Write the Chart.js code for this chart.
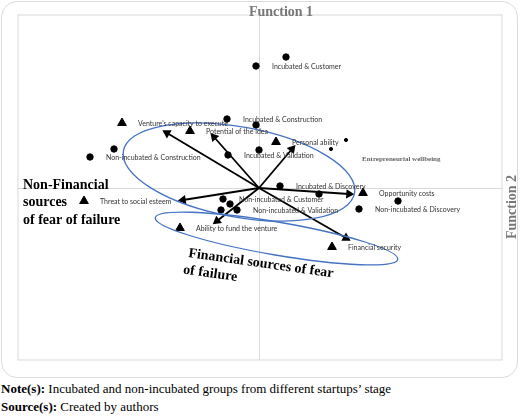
<!DOCTYPE html>
<html>
<head>
<meta charset="utf-8">
<script src="https://cdn.jsdelivr.net/npm/chart.js@4.4.0/dist/chart.umd.min.js"></script>
<style>
  body { margin: 0; background: #fff; width: 520px; height: 416px; position: relative; overflow: hidden; }
  #moldura { position: absolute; left: 1px; top: 1px; width: 517px; height: 377px; border: 1.5px solid #dcdcdc; border-radius: 16px; box-sizing: border-box; }
  #grafico { position: absolute; left: 0; top: 0; }
  .nota { position: absolute; left: 1px; font-family: "Liberation Serif", serif; font-size: 13px; color: #000; white-space: nowrap; }
</style>
</head>
<body>
<div id="moldura"></div>
<canvas id="grafico" width="520" height="380"></canvas>
<div class="nota" style="top:381px"><b>Note(s):</b> Incubated and non-incubated groups from different startups’ stage</div>
<div class="nota" style="top:399px"><b>Source(s):</b> Created by authors</div>
<script>
// group centroids (labelled)
const groupNames = ["Incubated & Customer", "Incubated & Construction", "Incubated & Validation", "Incubated & Discovery",
  "Non-incubated & Customer", "Non-incubated & Construction", "Non-incubated & Validation", "Non-incubated & Discovery"];
const groupX = [-0.06, -0.64, -0.62, 0.42, -0.72, -3.38, -0.44, 2.00];
const groupY = [2.44, 1.38, 0.66, 0.04, -0.22, 0.62, -0.44, -0.42];

// unlabelled centroids
const otherX = [0.54, -0.06, -2.90, 0.00, 1.20, 2.78, -0.58, -0.76];
const otherY = [2.62, 1.26, 0.78, 0.76, -0.12, -0.26, -0.32, -0.44];

// variables (triangles) and their vectors (arrows)
const varNames = ["Venture's capacity to execute", "Potential of the idea", "Personal ability", "Opportunity costs",
  "Threat to social esteem", "Ability to fund the venture", "Financial security"];
const varX = [-2.74, -1.38, 0.34, 2.08, -3.50, -1.58, 1.46];
const varY = [1.30, 1.14, 0.92, -0.10, -0.26, -0.80, -1.18];
const vecX = [-1.84, -0.90, 0.66, 1.80, -1.52, -0.84, 1.74];
const vecY = [1.10, 1.02, 0.78, -0.12, -0.24, -0.66, -1.00];

// entrepreneurial wellbeing
const wellX = [1.74, 1.44];
const wellY = [0.96, 0.78];

// ellipses: centre, semi axes, tilt (degrees, clockwise on screen)
const elipseCx = [-0.40, 0.35];
const elipseCy = [0.32, -1.01];
const elipseA = [2.35, 2.46];
const elipseB = [0.90, 0.33];
const elipseAng = [10.35, 9.76];

const pontos = (xs, ys) => xs.map((x, i) => ({ x, y: ys[i] }));

function rotacaoSeta(c) {
  const p = c.raw;
  if (!p || (p.x === 0 && p.y === 0)) return 0;
  const sx = c.chart.scales.x, sy = c.chart.scales.y;
  const dx = sx.getPixelForValue(p.x) - sx.getPixelForValue(0);
  const dy = sy.getPixelForValue(p.y) - sy.getPixelForValue(0);
  return Math.atan2(dx, -dy) * 180 / Math.PI;
}

const setas = vecX.map((x, i) => ({
  label: varNames[i],
  data: [{ x: 0, y: 0 }, { x, y: vecY[i] }],
  showLine: true,
  borderColor: "#000",
  backgroundColor: "#000",
  borderWidth: 1.8,
  pointStyle: "triangle",
  pointRadius: [0, 5.4],
  pointBorderWidth: 0,
  pointRotation: rotacaoSeta
}));

const desenho = {
  id: "desenho",
  beforeDatasetsDraw(chart) {
    const { ctx, chartArea: a, scales: { x, y } } = chart;
    ctx.save();
    ctx.strokeStyle = "#d9d9d9";
    ctx.lineWidth = 1;
    ctx.strokeRect(a.left, a.top, a.right - a.left, a.bottom - a.top);
    const x0 = Math.round(x.getPixelForValue(0)) + 0.5, y0 = Math.round(y.getPixelForValue(0)) + 0.5;
    ctx.beginPath();
    ctx.moveTo(x0, a.top); ctx.lineTo(x0, a.bottom);
    ctx.moveTo(a.left, y0); ctx.lineTo(a.right, y0);
    ctx.stroke();
    ctx.restore();
  },
  afterDatasetsDraw(chart) {
    const { ctx, scales: { x, y } } = chart;
    const unidade = x.getPixelForValue(1) - x.getPixelForValue(0);
    ctx.save();
    // ellipses
    ctx.strokeStyle = "#4472c4";
    ctx.lineWidth = 1.3;
    elipseCx.forEach((cx, i) => {
      ctx.beginPath();
      ctx.ellipse(x.getPixelForValue(cx), y.getPixelForValue(elipseCy[i]), elipseA[i] * unidade, elipseB[i] * unidade,
        elipseAng[i] * Math.PI / 180, 0, 2 * Math.PI);
      ctx.stroke();
    });
    // point labels
    ctx.fillStyle = "#333";
    ctx.font = "7px Lato";
    ctx.textBaseline = "middle";
    ctx.textAlign = "left";
    chart.data.datasets.forEach((ds, i) => {
      if (!ds.etiquetas) return;
      chart.getDatasetMeta(i).data.forEach((el, j) => ctx.fillText(ds.etiquetas[j], el.x + 16, el.y + 0.5));
    });
    // titles and group notes
    ctx.fillStyle = "#777";
    ctx.font = "bold 14px 'Liberation Serif'";
    ctx.textAlign = "center";
    ctx.fillText("Function 1", x.getPixelForValue(0.44), y.getPixelForValue(3.51));
    ctx.save();
    ctx.translate(x.getPixelForValue(5.06), y.getPixelForValue(-0.38));
    ctx.rotate(-Math.PI / 2);
    ctx.fillText("Function 2", 0, 0);
    ctx.restore();

    ctx.font = "bold 7px 'Liberation Serif'";
    ctx.textAlign = "left";
    ctx.fillStyle = "#666";
    ctx.fillText("Entrepreneurial wellbeing", x.getPixelForValue(2.06), y.getPixelForValue(0.58));

    ctx.fillStyle = "#000";
    ctx.font = "bold 14px 'Liberation Serif'";
    const nx = x.getPixelForValue(-4.72), ny = y.getPixelForValue(0.06);
    ["Non-Financial", "sources", "of fear of failure"].forEach((t, k) => ctx.fillText(t, nx, ny + k * 17.5));

    ctx.save();
    ctx.translate(x.getPixelForValue(-1.42), y.getPixelForValue(-1.38));
    ctx.rotate(8 * Math.PI / 180);
    ctx.textBaseline = "alphabetic";
    ctx.fillText("Financial sources of fear", 0, 0);
    ctx.fillText("of failure", -3, 17);
    ctx.restore();
    ctx.restore();
  }
};

new Chart(document.getElementById("grafico"), {
  type: "scatter",
  data: {
    datasets: [
      { label: "Groups", data: pontos(groupX, groupY), etiquetas: groupNames, backgroundColor: "#000", borderColor: "#000", pointRadius: 3.2 },
      { label: "Other", data: pontos(otherX, otherY), backgroundColor: "#000", borderColor: "#000", pointRadius: 3.2 },
      { label: "Variables", data: pontos(varX, varY), etiquetas: varNames, backgroundColor: "#000", borderColor: "#000", pointStyle: "triangle", pointRadius: 5 },
      { label: "Entrepreneurial wellbeing", data: pontos(wellX, wellY), backgroundColor: "#000", borderColor: "#000", pointRadius: 1.6 },
      ...setas
    ]
  },
  options: {
    responsive: false,
    animation: false,
    layout: { padding: { left: 18, top: 15, right: 18, bottom: 20 } },
    scales: {
      x: { type: "linear", min: -4.82, max: 4.86, display: false },
      y: { type: "linear", min: -3.44, max: 3.46, display: false }
    },
    plugins: { legend: { display: false }, tooltip: { enabled: false } }
  },
  plugins: [desenho]
});
</script>
</body>
</html>
